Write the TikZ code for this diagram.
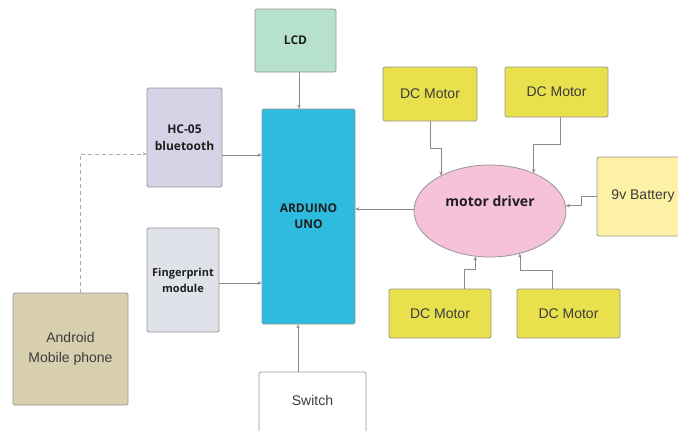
\documentclass[tikz,border=0pt]{standalone}
\usepackage{fontspec}
\setmainfont{Liberation Sans}
\newfontfamily\labelsans{Open Sans}
\usepackage{tikz}
\usetikzlibrary{shapes.geometric, positioning, arrows.meta, calc}
\definecolor{edgegray}{HTML}{969696}
\definecolor{linegray}{HTML}{8A8A8A}
\definecolor{dashgray}{HTML}{ABABAB}
\definecolor{textgray}{HTML}{3C3C3C}
\definecolor{lcdgreen}{HTML}{B6E1CF}
\definecolor{btlilac}{HTML}{D5D3E5}
\definecolor{unocyan}{HTML}{2DBBE0}
\definecolor{fpgray}{HTML}{DFE2E8}
\definecolor{phonetan}{HTML}{D8CFAF}
\definecolor{motoryellow}{HTML}{E8E04C}
\definecolor{battyellow}{HTML}{FCF1A4}
\definecolor{driverpink}{HTML}{F6C2DA}
\tikzset{
  block/.style={rectangle, rounded corners=1.5pt, draw=edgegray, line width=0.8pt, text=textgray, align=center, font=\fontsize{14}{20}\selectfont},
  boldblock/.style={block, text=black!88, font=\labelsans\bfseries\fontsize{12}{17}\selectfont},
  motor/.style={block, fill=motoryellow},
  driverblob/.style={ellipse, draw=edgegray, line width=0.8pt, fill=driverpink, text=black!88, font=\labelsans\bfseries\fontsize{14}{17}\selectfont},
  arrow/.style={->, >={Stealth[length=4pt,width=3.5pt]}, draw=linegray, line width=0.6pt},
  dasharrow/.style={arrow, dash pattern=on 4pt off 3pt, draw=dashgray}
}
\begin{document}
\begin{tikzpicture}[x=1pt, y=-1pt]
  \useasboundingbox (0,0) rectangle (678,431);
  % left side and the board
  \node (lcd) [boldblock, fill=lcdgreen, minimum width=81pt, minimum height=63pt] at (295.5,40.5) {LCD};
  \node (bt) [boldblock, fill=btlilac, minimum width=75pt, minimum height=99pt] at (184.5,137.5) {HC-05\\bluetooth};
  \node (uno) [boldblock, fill=unocyan, minimum width=93pt, minimum height=215pt, font=\labelsans\bfseries\fontsize{12}{16}\selectfont] at (308.5,216.5) {ARDUINO\\UNO};
  \node (finger) [boldblock, fill=fpgray, minimum width=72pt, minimum height=104pt, font=\labelsans\bfseries\fontsize{11}{16}\selectfont] at (183,280) {Fingerprint\\module};
  \node (phone) [block, fill=phonetan, minimum width=115pt, minimum height=112pt] at (70.5,349) {Android\\Mobile phone};
  % 1. the switch runs past the bottom edge, so its text is lifted with text depth
  \node (switch) [block, fill=white, minimum width=107pt, minimum height=68pt, text depth=12pt] at (312.5,406) {Switch};

  % right side: driver, motors and battery
  \node (driver) [driverblob, minimum width=152pt, minimum height=92pt, text depth=20pt] at (490,211) {motor driver};
  \node (motorA) [motor, minimum width=94pt, minimum height=54pt] at (430,94) {DC Motor};
  \node (motorB) [motor, minimum width=103pt, minimum height=50pt] at (556.5,92) {DC Motor};
  \node (motorC) [motor, minimum width=102pt, minimum height=49pt] at (440,313.5) {DC Motor};
  \node (motorD) [motor, minimum width=103pt, minimum height=49pt] at (568.5,313.5) {DC Motor};
  \node (battery) [block, fill=battyellow, minimum width=92pt, minimum height=79pt] at (643,196.5) {9v Battery};

  \draw [arrow] ([xshift=3.5pt]lcd.south) -- ([xshift=3.5pt]lcd.south |- uno.north);
  \draw [arrow] ([yshift=-17.5pt]bt.east) -- ([yshift=-17.5pt]bt.east -| uno.west);
  \draw [arrow] ([yshift=-3pt]finger.east) -- ([yshift=-3pt]finger.east -| uno.west);
  \draw [arrow] ([xshift=-14.5pt]switch.north) -- ([xshift=-14.5pt]switch.north |- uno.south);
  \draw [dasharrow] ([xshift=9.5pt]phone.north) |- ([yshift=-16.5pt]bt.west);
  \draw [arrow] ([yshift=2pt]driver.west) -- ([yshift=2pt]driver.west -| uno.east);

  % 2. elbow connectors into the ellipse, ending on angle anchors
  \draw [arrow] (motorA.south) -- ++(0,27) -| (driver.144);
  \draw [arrow] ([xshift=3.5pt]motorB.south) -- ++(0,27) -| (driver.41);
  \draw [arrow] (battery.west) -- ++(-15,0) |- (driver.4);
  \draw [arrow] ([xshift=24pt]motorC.north) -- ++(0,-19) -| (driver.252);
  \draw [arrow] ([xshift=-16.5pt]motorD.north) -- ++(0,-18) -| (driver.305);
\end{tikzpicture}
\end{document}
